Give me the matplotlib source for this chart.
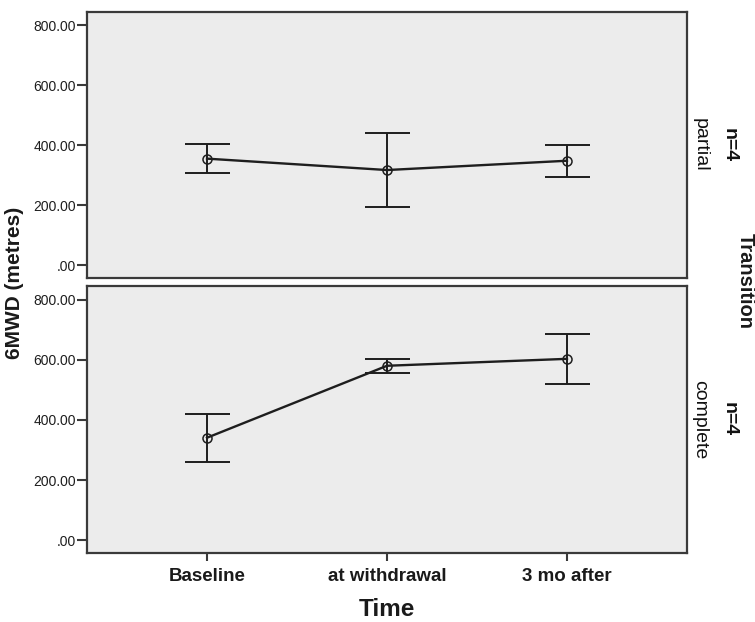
import matplotlib
matplotlib.use("Agg")
import matplotlib.pyplot as plt  # noqa: E402
import numpy as np  # noqa: E402

plt.rcParams["font.family"] = ["Liberation Sans", "DejaVu Sans"]

time_points = ["Baseline", "at withdrawal", "3 mo after"]
y_ticks = [0, 200, 400, 600, 800]

partial_mean = [356, 318, 349]
partial_low = [309, 194, 295]
partial_high = [405, 440, 402]

complete_mean = [341, 580, 603]
complete_low = [261, 556, 520]
complete_high = [420, 602, 685]

panels = [
    ("partial", "n=4", partial_mean, partial_low, partial_high),
    ("complete", "n=4", complete_mean, complete_low, complete_high),
]

W, H = 755, 622
fig = plt.figure(figsize=(W / 100, H / 100), dpi=100)
fig.patch.set_facecolor("white")

# pixel boxes (left, top, right, bottom)
boxes = [(87, 12, 687, 278), (87, 286, 687, 553)]
frame_col = "#3a3a3a"
ink = "#1e1e1e"

x = np.arange(len(time_points))
axes = []
for (name, nlab, mean, low, high), (l, t, r, b) in zip(panels, boxes):
    ax = fig.add_axes([l / W, 1 - b / H, (r - l) / W, (b - t) / H])
    ax.set_facecolor("#ececec")
    mean = np.array(mean, dtype=float)
    err = np.vstack([mean - np.array(low), np.array(high) - mean])
    ax.errorbar(x, mean, yerr=err, fmt="none", ecolor=ink, elinewidth=1.4,
                capsize=16.2, capthick=1.4, zorder=3)
    ax.plot(x, mean, color=ink, lw=1.7, zorder=4)
    ax.plot(x, mean, "o", ms=6.5, mfc="none", mec=ink, mew=1.1, zorder=5)
    ax.set_xlim(-0.667, 2.667)
    ax.set_ylim(-42, 845)
    ax.set_yticks(y_ticks)
    ax.set_yticklabels([".00" if v == 0 else f"{v:.2f}" for v in y_ticks],
                       fontsize=10, color="#1e1e1e")
    for s in ax.spines.values():
        s.set_color(frame_col)
        s.set_linewidth(1.6)
    ax.tick_params(axis="y", length=7, width=1.5, color=frame_col, pad=1)
    ax.tick_params(axis="x", length=6, width=1.5, color=frame_col)
    ax.text((700 - l) / (r - l), 0.5, name, transform=ax.transAxes, rotation=-90,
            ha="center", va="center", fontsize=14, fontweight="medium", color="#111111")
    ax.text((729 - l) / (r - l), 0.5, nlab, transform=ax.transAxes, rotation=-90,
            ha="center", va="center", fontsize=14, fontweight="bold", color="#111111")
    axes.append(ax)

axes[0].set_xticks([])
axes[1].set_xticks(x)
axes[1].set_xticklabels(time_points, fontsize=13.5, fontweight="bold", color="#1a1a1a")
axes[1].tick_params(axis="x", pad=5)

fig.text(15 / W, 1 - 283 / H, "6MWD (metres)", rotation=90, ha="center", va="center",
         fontsize=15, fontweight="bold", color="#1a1a1a")
fig.text(745 / W, 1 - 281 / H, "Transition", rotation=-90, ha="center", va="center",
         fontsize=14.5, fontweight="bold", color="#1a1a1a")
fig.text(387 / W, 1 - 609 / H, "Time", ha="center", va="center",
         fontsize=17.5, fontweight="bold", color="#1a1a1a")

fig.savefig("out.png", dpi=100)
